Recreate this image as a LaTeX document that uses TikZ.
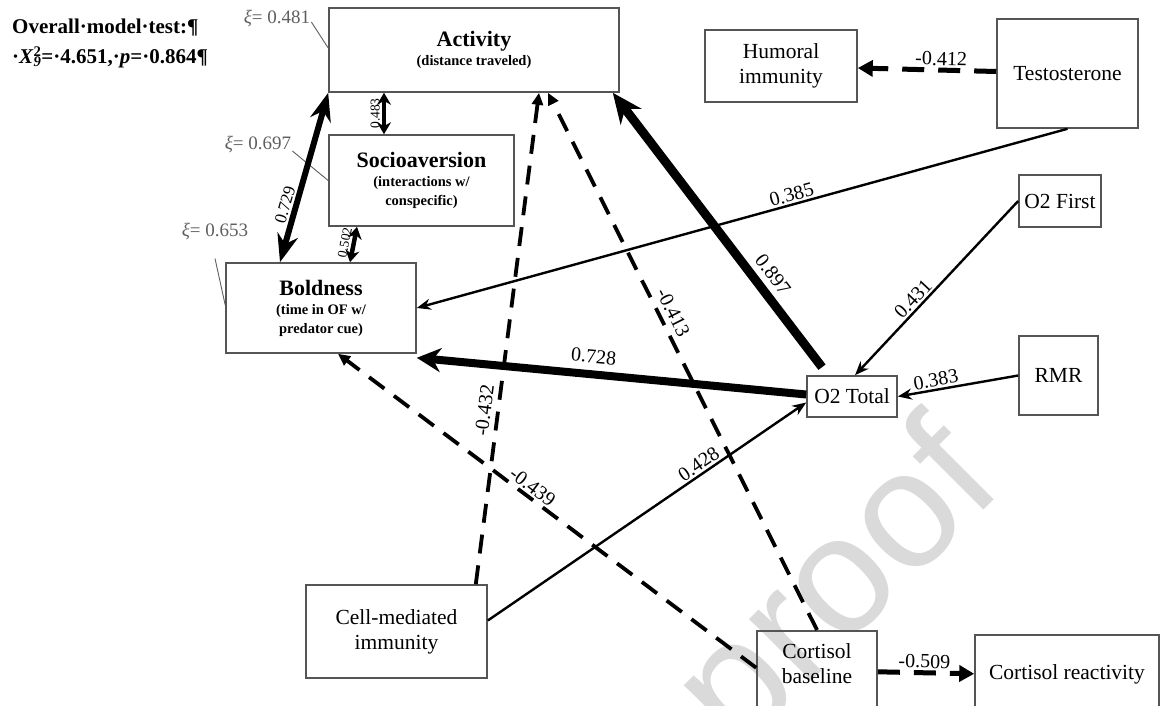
\documentclass[tikz,border=0pt]{standalone}
\usepackage{fontspec}
\setmainfont{Liberation Serif}
\newfontfamily\wmfont{Liberation Sans}
\usetikzlibrary{arrows.meta, positioning}
\definecolor{boxline}{RGB}{85,85,85}
\definecolor{xigray}{RGB}{95,95,95}
\definecolor{wmark}{RGB}{218,218,218}
\tikzset{
  box/.style={
    rectangle, draw=boxline, line width=1.6pt, inner sep=4pt,
    align=center, font=\fontsize{21.5}{25}\selectfont
  },
  trait/.style={box, font=\bfseries\fontsize{14.5}{19}\selectfont},
  cut/.style={box, anchor=north, inner sep=0pt},
  hdr/.style={anchor=north west, inner sep=0pt, align=left,
    font=\bfseries\fontsize{21}{30}\selectfont},
  xi/.style={font=\fontsize{19}{21}\selectfont, text=xigray, inner sep=1pt},
  wm/.style={font=\wmfont\fontsize{166}{166}\selectfont, text=wmark,
    rotate=45, inner sep=0pt},
  arr/.style={-{Stealth[length=14pt,width=11pt]}, line width=2.4pt},
  bigarr/.style={-{Stealth[length=30pt,width=26pt]}, line width=9pt},
  midarr/.style={-{Stealth[length=24pt,width=24pt]}, line width=8pt},
  bigdbl/.style={{Stealth[length=28pt,width=21pt]}-{Stealth[length=28pt,width=21pt]},
    line width=6pt},
  dbl/.style={{Stealth[length=12pt,width=14pt]}-{Stealth[length=12pt,width=14pt]},
    line width=4.5pt},
  darr/.style={-{Triangle[length=12pt,width=11pt]}, line width=3.8pt,
    dash pattern=on 19pt off 12pt},
  bdarr/.style={-{Triangle[length=15pt,width=16pt]}, line width=5pt,
    dash pattern=on 22pt off 14pt},
  lbl/.style={font=\fontsize{20}{22}\selectfont, sloped, above, inner sep=2pt},
  slbl/.style={lbl, font=\fontsize{13.5}{15}\selectfont},
  lead/.style={draw=xigray, line width=0.9pt}
}

\begin{document}
\begin{tikzpicture}[x=1pt, y=-1pt]

  \useasboundingbox (0,0) rectangle (1161,706);
  \fill[white] (0,0) rectangle (1161,706);
  \clip (0,0) rectangle (1161,706);

  \node[wm] (wmk) at (842,591) {proof};

  \node[hdr] (hdr) at (12,19)
        {Overall·model·test:¶\\·\textit{X}\rlap{\textsuperscript{2}}\textsubscript{\textit{9}}=·4.651,·\textit{p}=·0.864¶};

  % behaviour
  \node[trait, minimum width=290pt, minimum height=84pt] (act) at (474,50)
        {{\fontsize{22}{26}\selectfont Activity}\\(distance traveled)};
  \node[trait, minimum width=185pt, minimum height=91pt] (soc) at (421.5,180.5)
        {{\fontsize{22}{26}\selectfont Socioaversion}\\(interactions w/\\conspecific)};
  \node[trait, minimum width=190pt, minimum height=90pt] (bold) at (321,308)
        {{\fontsize{22}{26}\selectfont Boldness}\\(time in OF w/\\predator cue)};

  \node[xi] (xi1) at (277,19) {\textit{ξ}= 0.481};
  \node[xi] (xi2) at (258,145) {\textit{ξ}= 0.697};
  \node[xi] (xi3) at (215,232) {\textit{ξ}= 0.653};

  % physiology
  \node[box, minimum width=152pt, minimum height=72pt] (hum) at (781,66)
        {Humoral\\immunity};
  \node[box, minimum width=141pt, minimum height=109pt] (tes) at (1067.5,73.5)
        {Testosterone};
  \node[box, minimum width=82pt, minimum height=52pt] (o2f) at (1060,201)
        {O2 First};
  \node[box, minimum width=79pt, minimum height=79pt] (rmr) at (1058.5,375.5)
        {RMR};
  \node[box, minimum width=90pt, minimum height=41pt] (o2t) at (852,396.5)
        {O2 Total};
  \node[box, minimum width=181pt, minimum height=93pt] (cell) at (396.5,631.5)
        {Cell-mediated\\immunity};
  \node[cut] (cb) at (817,630)
        {\parbox[c][82pt][t]{120pt}{\centering\vspace{12.3pt}Cortisol\\baseline}};
  \node[cut] (cr) at (1067,634)
        {\parbox[c][78pt][t]{184pt}{\centering\vspace{29.3pt}Cortisol reactivity}};

  \draw[lead] ([yshift=-3pt]xi1.east) -- ([yshift=2pt]act.west);
  \draw[lead] ([yshift=-6pt]xi2.east) -- (soc.west);
  \draw[lead] ([yshift=-17pt]xi3.south) -- ([yshift=3pt]bold.west);

  \draw[bigdbl] (act.south west) -- node[lbl, pos=0.68, font=\fontsize{17}{19}\selectfont] (l729) {0.729} ([xshift=-41pt]bold.north);
  \draw[dbl] ([xshift=-37.5pt]soc.north) -- node[slbl] (l483) {0.483} ([xshift=-90pt]act.south);
  \draw[dbl] ([xshift=-64.5pt]soc.south) -- node[slbl] (l502) {0.502} ([xshift=29pt]bold.north);

  \draw[arr] (tes.south) -- node[lbl, pos=0.42] (l385) {0.385} (bold.east);
  \draw[arr] (o2f.west) -- node[lbl, pos=0.6] (l431) {0.431} ([xshift=3pt]o2t.north);
  \draw[arr] (rmr.west) -- node[lbl, pos=0.67] (l383) {0.383} (o2t.east);
  \draw[arr] ([yshift=11pt]cell.east) -- node[lbl, pos=0.68] (l428) {0.428} ([yshift=-6pt]o2t.west);

  \draw[bigarr] ([xshift=-30pt,yshift=8pt]o2t.north) -- node[lbl, pos=0.3, above=4pt] (l897) {0.897} ([xshift=-7pt]act.south east);
  \draw[midarr] ([yshift=2pt]o2t.west) -- node[lbl, pos=0.55, above=5pt] (l728) {0.728} ([yshift=-4pt]bold.south east);

  \draw[darr] ([xshift=-12pt]cell.north east) -- node[lbl, pos=0.35, above=3pt] (l432) {-0.432} ([xshift=65pt]act.south);
  \draw[darr] (cb.north) -- node[lbl, pos=0.58, above=3pt] (l413) {-0.413} ([xshift=74pt]act.south);
  \draw[darr] ([yshift=4pt]cb.west) -- node[lbl, pos=0.55] (l439) {-0.439} ([xshift=17pt]bold.south);

  \draw[bdarr] ([yshift=2pt]tes.west) -- node[lbl, pos=0.4] (l412) {-0.412} ([yshift=-2pt]hum.east);
  \draw[bdarr] (cb.east) -- node[lbl, pos=0.48] (l509) {-0.509} (cr.west);

\end{tikzpicture}
\end{document}
